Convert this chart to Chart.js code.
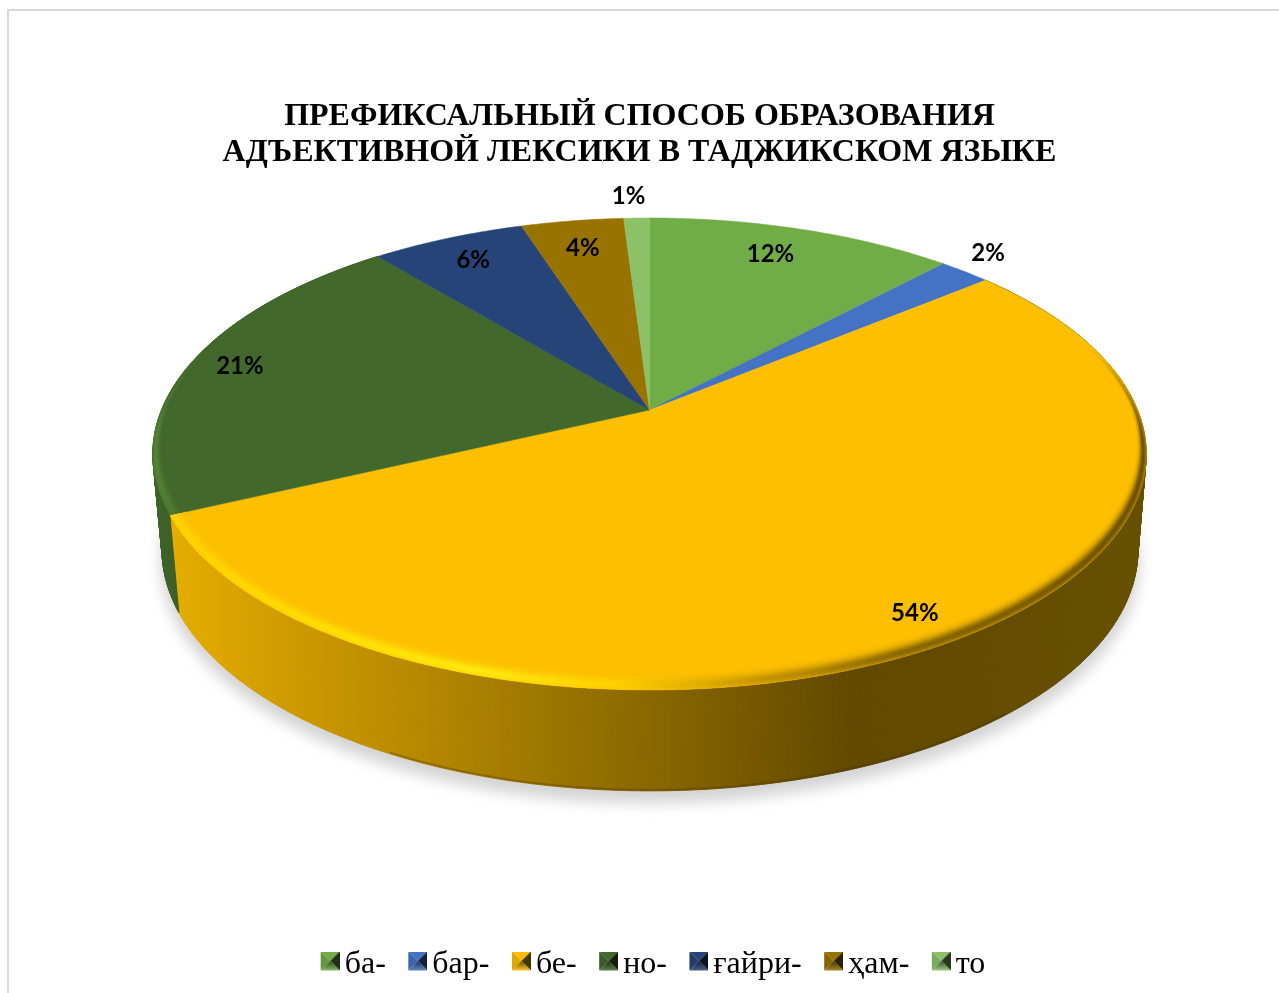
<!DOCTYPE html>
<html lang="ru">
<head>
<meta charset="utf-8">
<title>Префиксальный способ</title>
<script src="https://cdn.jsdelivr.net/npm/chart.js@4"></script>
<style>
    html, body { margin: 0; padding: 0; background: #fff; overflow: hidden; }
    #frame { position: absolute; left: 7px; top: 9px; width: 1400px; height: 1100px; border: 2px solid #d9d9d9; box-sizing: border-box; }
    #pie { position: absolute; left: 0; top: 0; }
</style>
</head>
<body>
<canvas id="pie" width="1279" height="993"></canvas>
<div id="frame"></div>
<script>
// chart data
const titleLines = ['ПРЕФИКСАЛЬНЫЙ СПОСОБ ОБРАЗОВАНИЯ', 'АДЪЕКТИВНОЙ ЛЕКСИКИ В ТАДЖИКСКОМ ЯЗЫКЕ'];
const prefixes = ['ба-', 'бар-', 'бе-', 'но-', 'ғайри-', 'ҳам-', 'то'];
const shares = [12, 2, 54, 21, 6, 4, 1];
const sliceColors = ['#70AD47', '#4472C4', '#FDBF00', '#43682B', '#264478', '#997300', '#8CC168'];

// how far out each percent label sits (1 = rim) and its nudge off the slice middle, degrees
const labelRadius = [0.84, 1.127, 0.893, 0.895, 0.861, 0.841, 1.146];
const labelShift = [-1.8, -1.8, 0.9, 0.6, 0.2, 0, -0.8];

// tilted disc: unit circle -> screen, top face and bottom face of the pie
const K = -0.1864;
const topFace = { x: 649.5, y: 410, a: 488, b: 227.8 };
const baseFace = { x: 650, y: 505, a: 479.4, b: 232.6 };

function project(face, theta, r) {
    const u = Math.sin(theta) * r;
    const v = -Math.cos(theta) * r;
    const w = 1 + K * v;
    return { x: face.x + face.a * u / w, y: face.y + face.b * v / w };
}

function traceRim(ctx, face, from, to, r) {
    const steps = Math.max(2, Math.ceil(Math.abs(to - from) / 0.01));
    for (let i = 0; i <= steps; i++) {
        const p = project(face, from + (to - from) * i / steps, r);
        ctx.lineTo(p.x, p.y);
    }
}

function sideGradient(ctx, stops) {
    const g = ctx.createLinearGradient(150, 0, 1150, 0);
    stops.forEach(s => g.addColorStop((s[0] - 150) / 1000, s[1]));
    return g;
}

function toRgb(hex) {
    const n = parseInt(hex.slice(1), 16);
    return [n >> 16, (n >> 8) & 255, n & 255];
}

function colorAt(stops, x) {
    let i = 0;
    while (i < stops.length - 2 && x > stops[i + 1][0]) i++;
    const t = Math.min(1, Math.max(0, (x - stops[i][0]) / (stops[i + 1][0] - stops[i][0])));
    const a = toRgb(stops[i][1]);
    const b = toRgb(stops[i + 1][1]);
    return a.map((c, k) => c + (b[k] - c) * t);
}

// side wall colours run left to right across the disc
const wallStops = {
    2: [[150, '#EAB000'], [300, '#CC9900'], [500, '#A67D00'], [700, '#806000'], [850, '#614900'], [1150, '#665000']],
    3: [[150, '#3F6328'], [200, '#3A5C25'], [1150, '#3A5C25']]
};
const rimStops = {
    2: [[150, '#FFD000'], [300, '#FFDC00'], [480, '#FFEA10'], [620, '#FFD000'], [760, '#C89600'], [900, '#8A6800'], [1150, '#6A5000']],
    3: [[150, '#568539'], [175, '#4F7A35'], [1150, '#4F7A35']]
};

function arcsOf(chart) {
    return chart.getDatasetMeta(0).data.map(arc => ({
        from: arc.startAngle + Math.PI / 2,
        to: arc.endAngle + Math.PI / 2
    }));
}

const tiltedPie = {
    id: 'tiltedPie',
    // legend sits a little right of the canvas middle
    afterLayout(chart) {
        chart.legend.left += 17;
        chart.legend.right += 17;
    },
    // the flat arcs are replaced by their projected versions
    beforeDatasetsDraw(chart) {
        const ctx = chart.ctx;
        const arcs = arcsOf(chart);

        // soft shadow under the base
        ctx.save();
        ctx.filter = 'blur(7px)';
        ctx.fillStyle = 'rgba(0,0,0,0.17)';
        ctx.beginPath();
        traceRim(ctx, { x: 650, y: 517, a: 481, b: 233 }, 0, Math.PI * 2, 1);
        ctx.closePath();
        ctx.fill();
        ctx.restore();

        // side wall, one narrow quad at a time so the silhouette stays filled
        arcs.forEach((arc, i) => {
            if (!wallStops[i]) return;
            const fill = sideGradient(ctx, wallStops[i]);
            ctx.fillStyle = fill;
            ctx.strokeStyle = fill;
            ctx.lineWidth = 1;
            const seg = 0.01;
            for (let t = arc.from; t < arc.to; t += seg) {
                const next = Math.min(arc.to, t + seg);
                const a = project(topFace, t, 1);
                const b = project(topFace, next, 1);
                const c = project(baseFace, next, 1);
                const d = project(baseFace, t, 1);
                ctx.beginPath();
                ctx.moveTo(a.x, a.y);
                ctx.lineTo(b.x, b.y);
                ctx.lineTo(c.x, c.y);
                ctx.lineTo(d.x, d.y);
                ctx.closePath();
                ctx.fill();
                ctx.stroke();
            }
        });

        // darker line along the front of the bottom edge
        ctx.beginPath();
        traceRim(ctx, baseFace, Math.PI * 0.78, Math.PI * 1.15, 0.997);
        ctx.strokeStyle = 'rgba(70,45,0,0.3)';
        ctx.lineWidth = 2;
        ctx.stroke();

        // top face
        arcs.forEach((arc, i) => {
            ctx.beginPath();
            ctx.moveTo(topFace.x, topFace.y);
            traceRim(ctx, topFace, arc.from, arc.to, 1);
            ctx.closePath();
            ctx.fillStyle = sliceColors[i];
            ctx.strokeStyle = sliceColors[i];
            ctx.lineWidth = 0.5;
            ctx.fill();
            ctx.stroke();
        });

        // rounded edge: opaque bands mixed towards the slice colour, laid from the inside out
        arcs.forEach((arc, i) => {
            if (!rimStops[i]) return;
            const base = toRgb(sliceColors[i]);
            ctx.save();
            ctx.beginPath();
            ctx.moveTo(topFace.x, topFace.y);
            traceRim(ctx, topFace, arc.from, arc.to, 1);
            ctx.closePath();
            ctx.clip();
            ctx.lineWidth = 1.6;
            const seg = 0.012;
            for (let b = 15; b >= 0; b--) {
                const f = b / 15;
                for (let t = arc.from; t < arc.to; t += seg) {
                    const v = -Math.cos(t);
                    const fade = Math.min(1, Math.max(0, (v + 0.3) / 0.4));
                    if (fade <= 0) continue;
                    const depth = 0.012 + 0.038 * Math.max(0, v);
                    const r = 1 - depth * f;
                    const mixAmount = fade * Math.exp(-Math.pow((f - 0.25) / 0.38, 2));
                    const rim = colorAt(rimStops[i], project(topFace, t, r).x);
                    const col = base.map((c, k) => Math.round(c + (rim[k] - c) * mixAmount));
                    ctx.strokeStyle = `rgb(${col[0]},${col[1]},${col[2]})`;
                    ctx.beginPath();
                    traceRim(ctx, topFace, t, t + seg + 0.002, r);
                    ctx.stroke();
                }
            }
            ctx.restore();
        });

        // percent labels
        ctx.font = 'bold 24px Lato, "Open Sans", sans-serif';
        ctx.fillStyle = '#000';
        ctx.textAlign = 'center';
        ctx.textBaseline = 'middle';
        arcs.forEach((arc, i) => {
            const mid = (arc.from + arc.to) / 2 + labelShift[i] * Math.PI / 180;
            const p = project(topFace, mid, labelRadius[i]);
            ctx.fillText(shares[i] + '%', p.x, p.y + 1);
        });
        return false;
    }
};

function shade(hex, amount) {
    const rgb = toRgb(hex);
    const mix = c => Math.round(amount < 0 ? c * (1 + amount) : c + (255 - c) * amount);
    return `rgb(${mix(rgb[0])},${mix(rgb[1])},${mix(rgb[2])})`;
}

// little pyramid swatch for the legend; spare room left and below pulls it towards the text
function legendMarker(color) {
    const c = document.createElement('canvas');
    c.width = 23;
    c.height = 27;
    const g = c.getContext('2d');
    g.translate(4, 0);
    const tri = (x1, y1, x2, y2, fill) => {
        g.beginPath();
        g.moveTo(x1, y1);
        g.lineTo(x2, y2);
        g.lineTo(9.5, 9.5);
        g.closePath();
        g.fillStyle = fill;
        g.fill();
    };
    tri(0, 0, 19, 0, color);
    tri(0, 0, 0, 19, shade(color, -0.12));
    tri(19, 0, 19, 19, shade(color, -0.72));
    const bottom = g.createLinearGradient(0, 9.5, 0, 19);
    bottom.addColorStop(0, shade(color, -0.6));
    bottom.addColorStop(1, shade(color, 0.15));
    tri(0, 19, 19, 19, bottom);
    return c;
}

new Chart(document.getElementById('pie'), {
    type: 'pie',
    data: {
        labels: prefixes,
        datasets: [{ data: shares, backgroundColor: sliceColors }]
    },
    options: {
        responsive: false,
        animation: false,
        layout: { padding: { top: 0, bottom: 2 } },
        plugins: {
            tooltip: { enabled: false },
            title: {
                display: true,
                text: titleLines,
                color: '#000',
                font: { family: '"Liberation Serif", serif', size: 32, weight: 'bold', lineHeight: 1.14 },
                padding: { top: 98, bottom: 20 }
            },
            legend: {
                position: 'bottom',
                labels: {
                    usePointStyle: true,
                    pointStyleWidth: 1,
                    padding: 29.5,
                    color: '#000',
                    font: { family: '"Liberation Serif", serif', size: 32 },
                    generateLabels: () => prefixes.map((text, i) => ({
                        text,
                        fillStyle: sliceColors[i],
                        pointStyle: legendMarker(sliceColors[i]),
                        lineWidth: 0,
                        index: i
                    }))
                }
            }
        }
    },
    plugins: [tiltedPie]
});
</script>
</body>
</html>
